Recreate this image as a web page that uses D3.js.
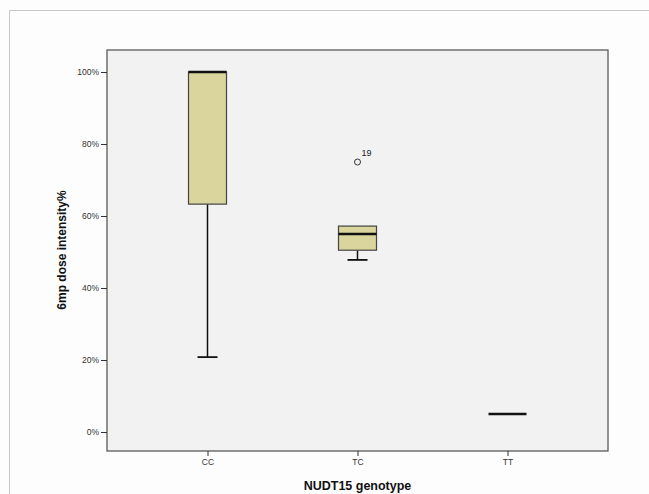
<!DOCTYPE html>
<html>
<head>
<meta charset="utf-8">
<script src="https://cdn.jsdelivr.net/npm/d3@7"></script>
<style>
  body { margin: 0; background: #fdfdfd; }
  svg { display: block; }
</style>
</head>
<body>
<svg id="chart" width="649" height="494"></svg>
<script>
// genotype groups and their box statistics (percent)
const genotypes = ['CC', 'TC', 'TT'];
const whiskerLow = [20.8, 47.8, 5];
const q1Values = [63.3, 50.5, 5];
const medianValues = [100, 55, 5];
const q3Values = [100, 57.2, 5];
const whiskerHigh = [100, 57.2, 5];
const outliers = [{ group: 'TC', value: 75, label: '19' }];
const yTickValues = [0, 20, 40, 60, 80, 100];

const svg = d3.select('#chart');

// outer border of the figure
svg.append('path')
    .attr('d', 'M9.5,494 V10.5 H649')
    .attr('fill', 'none')
    .attr('stroke', '#c8c8c8')
    .attr('stroke-width', 1);

const plot = { left: 107, right: 608, top: 50, bottom: 451 };

const x = d3.scalePoint()
    .domain(genotypes)
    .range([plot.left, plot.right])
    .padding(0.67);

const y = d3.scaleLinear()
    .domain([0, 100])
    .range([432, 72]);

// plot background + frame
svg.append('rect')
    .attr('x', plot.left)
    .attr('y', plot.top)
    .attr('width', plot.right - plot.left)
    .attr('height', plot.bottom - plot.top)
    .attr('fill', '#f2f2f2')
    .attr('stroke', '#5a5a5a')
    .attr('stroke-width', 1.3);

/* axes */
const yAxis = d3.axisLeft(y)
    .tickValues(yTickValues)
    .tickFormat(d => d + '%')
    .tickSize(6)
    .tickPadding(2);

const yAxisG = svg.append('g')
    .attr('transform', `translate(${plot.left},0)`)
    .call(yAxis);
yAxisG.select('.domain').remove();
yAxisG.selectAll('line').attr('stroke', '#333');
yAxisG.selectAll('text')
    .attr('fill', '#333')
    .style('font-family', 'Arial, "Liberation Sans", sans-serif')
    .style('font-size', '8.5px');

const xAxis = d3.axisBottom(x)
    .tickSize(5)
    .tickPadding(3);

const xAxisG = svg.append('g')
    .attr('transform', `translate(0,${plot.bottom})`)
    .call(xAxis);
xAxisG.select('.domain').remove();
xAxisG.selectAll('line').attr('stroke', '#333');
xAxisG.selectAll('text')
    .attr('fill', '#333')
    .style('font-family', 'Arial, "Liberation Sans", sans-serif')
    .style('font-size', '8.5px');

/* axis labels */
svg.append('text')
    .attr('transform', `translate(66,250) rotate(-90)`)
    .attr('text-anchor', 'middle')
    .style('font-family', 'Arial, "Liberation Sans", sans-serif')
    .style('font-size', '12px')
    .style('font-weight', 'bold')
    .attr('fill', '#111')
    .text('6mp dose intensity%');

svg.append('text')
    .attr('x', x('TC'))
    .attr('y', 490)
    .attr('text-anchor', 'middle')
    .style('font-family', 'Arial, "Liberation Sans", sans-serif')
    .style('font-size', '12.5px')
    .style('font-weight', 'bold')
    .attr('fill', '#111')
    .text('NUDT15 genotype');

/* boxes */
const boxWidth = 38;
const capWidth = 20;

const boxData = genotypes.map((g, i) => ({
    group: g,
    lo: whiskerLow[i],
    q1: q1Values[i],
    med: medianValues[i],
    q3: q3Values[i],
    hi: whiskerHigh[i]
}));

const boxes = svg.append('g').selectAll('g')
    .data(boxData)
    .enter().append('g');

// whiskers
boxes.filter(d => d.lo < d.q1)
    .append('line')
    .attr('x1', d => x(d.group))
    .attr('x2', d => x(d.group))
    .attr('y1', d => y(d.lo))
    .attr('y2', d => y(d.q1))
    .attr('stroke', '#111')
    .attr('stroke-width', 1.5);

boxes.filter(d => d.lo < d.q1)
    .append('line')
    .attr('x1', d => x(d.group) - capWidth / 2)
    .attr('x2', d => x(d.group) + capWidth / 2)
    .attr('y1', d => y(d.lo))
    .attr('y2', d => y(d.lo))
    .attr('stroke', '#111')
    .attr('stroke-width', 1.8);

boxes.filter(d => d.hi > d.q3)
    .append('line')
    .attr('x1', d => x(d.group))
    .attr('x2', d => x(d.group))
    .attr('y1', d => y(d.hi))
    .attr('y2', d => y(d.q3))
    .attr('stroke', '#111')
    .attr('stroke-width', 1.5);

boxes.filter(d => d.q3 > d.q1)
    .append('rect')
    .attr('x', d => x(d.group) - boxWidth / 2)
    .attr('y', d => y(d.q3))
    .attr('width', boxWidth)
    .attr('height', d => y(d.q1) - y(d.q3))
    .attr('fill', '#d9d59d')
    .attr('stroke', '#444')
    .attr('stroke-width', 1.2);

// median
boxes.append('line')
    .attr('x1', d => x(d.group) - boxWidth / 2)
    .attr('x2', d => x(d.group) + boxWidth / 2)
    .attr('y1', d => y(d.med))
    .attr('y2', d => y(d.med))
    .attr('stroke', '#111')
    .attr('stroke-width', 2.6);

/* outliers */
const out = svg.append('g').selectAll('g')
    .data(outliers)
    .enter().append('g');

out.append('circle')
    .attr('cx', d => x(d.group))
    .attr('cy', d => y(d.value))
    .attr('r', 3)
    .attr('fill', 'none')
    .attr('stroke', '#333')
    .attr('stroke-width', 1);

out.append('text')
    .attr('x', d => x(d.group) + 4)
    .attr('y', d => y(d.value) - 6)
    .style('font-family', 'Arial, "Liberation Sans", sans-serif')
    .style('font-size', '9px')
    .attr('fill', '#222')
    .text(d => d.label);
</script>
</body>
</html>
